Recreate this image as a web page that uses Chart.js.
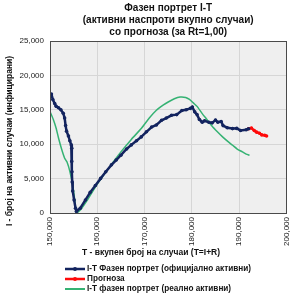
<!doctype html>
<html>

<head>
    <meta charset="utf-8" />
    <script src="https://cdn.jsdelivr.net/npm/chart.js@4.4.0/dist/chart.umd.min.js"></script>
    <style>
        html,
        body {
            margin: 0px;
            padding: 0px;
            background-color: #ffffff;
            font-family: "Liberation Sans", Arial, sans-serif;
        }

        .wrap {
            position: relative;
            width: 300px;
            height: 300px;
        }

        .legend {
            position: absolute;
            left: 65px;
            top: 264px;
            font-size: 8.2px;
            font-weight: bold;
            color: #111111;
        }

        .legend div {
            height: 10px;
            line-height: 10px;
            white-space: nowrap;
        }

        .legend canvas {
            vertical-align: middle;
            margin-right: 2px;
        }
    </style>
    <title>Фазен портрет I-T</title>
</head>

<body>
    <div class="wrap">
        <canvas id="chart" width="300" height="300"></canvas>
        <div class="legend" id="legend"></div>
    </div>

    <script>
        // T - total cases, I - active cases
        var officialT = [150300, 150600, 151000, 151300, 151800, 152300, 152800, 153100, 153300, 153500, 153900, 154200, 154500, 154600, 154600, 154650, 154700, 154800, 155100, 155400, 155600, 156400, 157500, 158500, 159600, 160700, 161800, 163000, 164000, 165000, 166200, 167200, 168300, 169300, 170400, 171500, 172500, 173600, 174600, 175700, 176800, 177900, 178800, 179700, 180100, 180600, 181100, 181600, 182200, 182700, 183600, 184300, 185000, 185500, 186200, 186600, 187500, 188600, 189500, 190300, 191500, 192000];
        var officialI = [17300, 16500, 15900, 15500, 15300, 15000, 14500, 13800, 12700, 11900, 11200, 10500, 9900, 9400, 7500, 6000, 4500, 3200, 1900, 700, 250, 700, 1900, 3000, 4000, 5030, 6000, 7000, 7700, 8400, 9300, 9900, 10500, 11060, 11800, 12500, 12800, 13480, 13800, 14200, 14300, 14900, 15000, 15200, 15400, 14700, 14300, 13600, 13200, 13400, 13200, 13100, 13500, 13200, 13300, 12700, 12400, 12270, 12300, 12000, 12100, 12250];

        var forecastT = [192000, 192600, 193200, 193700, 194300, 194800, 195400, 195800];
        var forecastI = [12250, 12350, 12000, 11750, 11600, 11350, 11300, 11200];

        var realT = [150000, 150700, 151300, 151800, 152400, 153100, 153600, 154200, 154900, 155300, 155600, 156400, 158000, 160000, 162500, 165000, 167200, 169300, 171000, 172500, 174000, 175000, 176300, 177500, 178700, 179500, 180300, 181100, 182200, 183300, 184300, 185400, 186500, 187600, 188600, 189600, 190700, 191500, 192200];
        var realI = [14740, 13600, 12320, 10900, 9420, 7970, 7400, 6040, 3620, 1500, 0, 430, 2000, 4200, 6600, 8880, 10700, 12270, 13800, 14930, 15700, 16130, 16600, 16860, 16800, 16500, 16000, 15500, 14450, 13500, 12600, 11800, 11060, 10400, 9850, 9300, 8880, 8550, 8400];

        var seriesNames = ["I-T Фазен портрет (официјално активни)", "Прогноза", "I-T фазен портрет (реално активни)"];
        var titleLines = ["Фазен портрет I-T", "(активни наспроти вкупно случаи)", "со прогноза (за Rt=1,00)"];
        var xTitle = "T - вкупен број на случаи (T=I+R)";
        var yTitle = "I - број на активни случаи (инфицирани)";

        var colors = ["#13245f", "#ff0a0a", "#35b273"];

        function pairs(xs, ys) {
            return xs.map(function (x, i) { return { x: x, y: ys[i] }; });
        }

        Chart.defaults.font.family = "'Liberation Sans', Arial, sans-serif";
        Chart.defaults.color = "#222222";

        // grey plot area with dark frame, plus axis titles placed like the original
        var plotBox = {
            id: 'plotBox',
            beforeDraw: function (chart) {
                var a = chart.chartArea, ctx = chart.ctx;
                ctx.save();
                ctx.fillStyle = '#efefef';
                ctx.fillRect(a.left, a.top, a.right - a.left, a.bottom - a.top);
                ctx.restore();
            },
            afterDraw: function (chart) {
                var a = chart.chartArea, ctx = chart.ctx;
                ctx.save();
                ctx.strokeStyle = '#4a4a4a';
                ctx.lineWidth = 1;
                ctx.strokeRect(Math.round(a.left) + 0.5, Math.round(a.top) + 0.5, Math.round(a.right - a.left), Math.round(a.bottom - a.top));
                ctx.fillStyle = '#111111';
                ctx.font = "bold 8.5px 'Liberation Sans', Arial, sans-serif";
                ctx.textAlign = 'center';
                ctx.textBaseline = 'middle';
                ctx.fillText(xTitle, 151, 253);
                ctx.translate(10, 141);
                ctx.rotate(-Math.PI / 2);
                ctx.fillText(yTitle, 0, 0);
                ctx.restore();
            }
        };

        var ctx = document.getElementById('chart').getContext('2d');
        var chart = new Chart(ctx, {
            type: 'line',
            data: {
                datasets: [
                    {
                        label: seriesNames[0],
                        data: pairs(officialT, officialI),
                        borderColor: colors[0],
                        backgroundColor: colors[0],
                        borderWidth: 2.5,
                        pointRadius: 1.8,
                        pointBorderWidth: 0,
                        tension: 0
                    },
                    {
                        label: seriesNames[1],
                        data: pairs(forecastT, forecastI),
                        borderColor: colors[1],
                        backgroundColor: colors[1],
                        borderWidth: 2.5,
                        pointRadius: 1.8,
                        pointBorderWidth: 0,
                        tension: 0
                    },
                    {
                        label: seriesNames[2],
                        data: pairs(realT, realI),
                        borderColor: colors[2],
                        backgroundColor: colors[2],
                        borderWidth: 1.5,
                        pointRadius: 0,
                        tension: 0.2
                    }
                ]
            },
            options: {
                responsive: false,
                animation: false,
                layout: {
                    padding: { left: 0, right: 12, top: 0, bottom: 52 }
                },
                plugins: {
                    legend: { display: false },
                    tooltip: { enabled: false },
                    title: {
                        display: true,
                        fullSize: false,
                        text: titleLines,
                        color: '#111111',
                        font: { size: 10, weight: 'bold', lineHeight: 1.2 },
                        padding: { top: 2, bottom: 3 }
                    }
                },
                scales: {
                    x: {
                        type: 'linear',
                        min: 150000,
                        max: 200000,
                        ticks: {
                            stepSize: 10000,
                            minRotation: 90,
                            maxRotation: 90,
                            padding: 4,
                            font: { size: 8 },
                            callback: function (v) { return v.toLocaleString('en-US'); }
                        },
                        grid: { color: '#d6d6d6', drawTicks: false },
                        border: { display: false },
                        afterFit: function (s) { s.height = 35; }
                    },
                    y: {
                        min: 0,
                        max: 25000,
                        ticks: {
                            stepSize: 5000,
                            padding: 6,
                            font: { size: 8 },
                            callback: function (v) { return v.toLocaleString('en-US'); }
                        },
                        grid: { color: '#d6d6d6', drawTicks: false },
                        border: { display: false },
                        afterFit: function (s) { s.width = 50; }
                    }
                }
            },
            plugins: [plotBox]
        });

        // legend rows under the chart
        var legend = document.getElementById('legend');
        seriesNames.forEach(function (name, i) {
            var row = document.createElement('div');
            var sw = document.createElement('canvas');
            sw.width = 20; sw.height = 8;
            var c = sw.getContext('2d');
            c.strokeStyle = colors[i];
            c.lineWidth = i === 2 ? 2 : 2.5;
            c.beginPath(); c.moveTo(0, 4); c.lineTo(20, 4); c.stroke();
            if (i < 2) {
                c.fillStyle = colors[i];
                c.beginPath(); c.arc(10, 4, 2, 0, Math.PI * 2); c.fill();
            }
            row.appendChild(sw);
            row.appendChild(document.createTextNode(name));
            legend.appendChild(row);
        });
    </script>
</body>

</html>
